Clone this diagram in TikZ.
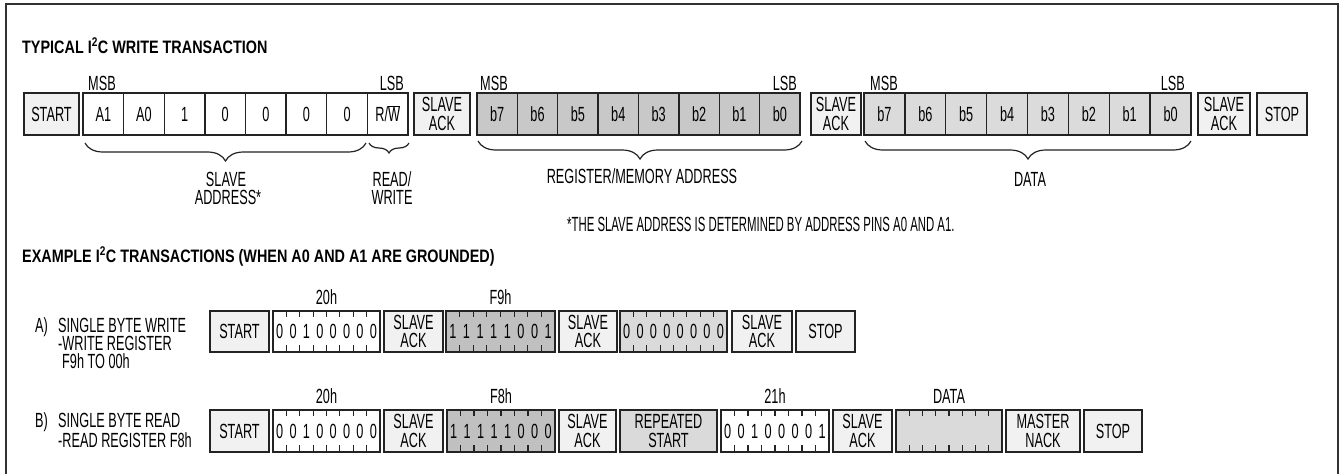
\documentclass[tikz,border=0pt]{standalone}
\usepackage{fontspec}
\setmainfont{Liberation Sans}[FakeStretch=0.62]
\newfontfamily\ttlfont{Liberation Sans}[FakeStretch=0.8]
\newfontfamily\notefont{Liberation Sans}[FakeStretch=0.555]
\usetikzlibrary{decorations.pathreplacing}
\definecolor{bdr}{RGB}{35,35,35}
\definecolor{lt}{RGB}{241,241,241}
\definecolor{regc}{RGB}{200,200,200}
\definecolor{datc}{RGB}{219,219,219}
\definecolor{f9c}{RGB}{192,192,192}
\definecolor{zc}{RGB}{218,218,218}
\definecolor{frmc}{RGB}{50,50,50}
\newcommand\bodyf{\fontsize{20.5}{18.5}\selectfont}
\newcommand\titlef{\ttlfont\bfseries\fontsize{18}{20}\selectfont}
\tikzset{
  bx/.style={draw=bdr, line width=1.4pt, inner sep=0pt, align=center, font=\bodyf},
  lbl/.style={inner sep=0pt, font=\bodyf},
  ttl/.style={inner sep=0pt, font=\titlef},
  tickmark/.style={draw=bdr, line width=1.1pt},
  brc/.style={draw=bdr, line width=1.2pt, decorate, decoration={brace, mirror, amplitude=#1}},
  brc/.default=18pt,
  frm/.style={draw=frmc, line width=2.2pt},
}
\newcommand\bxn[7]{\node[bx, fill=#6, minimum width={(#3)-(#2)}, minimum height={(#5)-(#4)}] (#1) at ({((#2)+(#3))/2},{((#4)+(#5))/2}) {#7};}
\newcommand\tickset[4]{\foreach \k in {1,...,7} {\draw[tickmark] ({(#1)+((#2)-(#1))*\k/8},#3) -- ++(0,6) ({(#1)+((#2)-(#1))*\k/8},#4) -- ++(0,-7);}}
\newcommand\byteb[7]{%
  \bxn{#1}{#2}{#3}{#4}{#5}{#6}{}%
  \foreach \d [count=\k] in {#7} {\node[lbl] (#1d\k) at ({(#2)+((#3)-(#2))*(\k-0.5)/8},{((#4)+(#5))/2}) {\d};}%
  \tickset{#2}{#3}{#4}{#5}%
}
\begin{document}
\begin{tikzpicture}[x=1pt,y=-1pt]
\useasboundingbox (0,0) rectangle (1342,474);
\fill[white] (0,0) rectangle (1342,474);
\draw[frm] (6,474) -- (6,4) -- (1338,4) -- (1338,474);

% ---------- typical write transaction ----------
\node[ttl, anchor=base west] (t1) at (22,53) {TYPICAL I\textsuperscript{2}C WRITE TRANSACTION};

\bxn{st}{24}{79}{93}{135}{lt}{START}
\foreach \t [count=\k from 0] in {A1,A0,1,0,0,0,0,{R/$\overline{\hbox{W}}$}} {
  \pgfmathsetmacro\xa{83+\k*40.625}\pgfmathsetmacro\xb{\xa+40.625}
  \bxn{sa\k}{\xa}{\xb}{93}{135}{white}{\t}
}
\bxn{ack1}{414}{470}{93}{135}{lt}{SLAVE\\ACK}
\foreach \t [count=\k from 0] in {b7,b6,b5,b4,b3,b2,b1,b0} {
  \pgfmathsetmacro\xa{477+\k*40.375}\pgfmathsetmacro\xb{\xa+40.375}
  \bxn{ra\k}{\xa}{\xb}{93}{135}{regc}{\t}
}
\bxn{ack2}{811}{861}{93}{135}{lt}{SLAVE\\ACK}
\foreach \t [count=\k from 0] in {b7,b6,b5,b4,b3,b2,b1,b0} {
  \pgfmathsetmacro\xa{864+\k*40.875}\pgfmathsetmacro\xb{\xa+40.875}
  \bxn{da\k}{\xa}{\xb}{93}{135}{datc}{\t}
}
\bxn{ack3}{1198}{1250}{93}{135}{lt}{SLAVE\\ACK}
\bxn{sp}{1257}{1307}{93}{135}{lt}{STOP}

\node[lbl, anchor=base west] (msb1) at (88,90) {MSB};
\node[lbl, anchor=base east] (lsb1) at (404,90) {LSB};
\node[lbl, anchor=base west] (msb2) at (480,90) {MSB};
\node[lbl, anchor=base east] (lsb2) at (797,90) {LSB};
\node[lbl, anchor=base west] (msb3) at (870,90) {MSB};
\node[lbl, anchor=base east] (lsb3) at (1185,90) {LSB};

\draw[brc=18pt] (85,143) -- (366,143);
\draw[brc=10pt] (369,143) -- (409,143);
\draw[brc=18pt] (478,141) -- (802,141);
\draw[brc=18pt] (865,141) -- (1191,141);

\node[lbl, anchor=base] (sal1) at (226,186) {SLAVE};
\node[lbl, anchor=base] (sal2) at (228,204) {ADDRESS*};
\node[lbl, anchor=base] (rwl1) at (392,186) {READ/};
\node[lbl, anchor=base] (rwl2) at (392,204) {WRITE};
\node[lbl, anchor=base] (rml) at (642,183) {REGISTER/MEMORY ADDRESS};
\node[lbl, anchor=base] (dal) at (1030,186) {DATA};
\node[lbl, anchor=base west, font=\notefont\bodyf] (fn) at (567,231) {*THE SLAVE ADDRESS IS DETERMINED BY ADDRESS PINS A0 AND A1.};

% ---------- examples ----------
\node[ttl, anchor=base west] (t2) at (22,262) {EXAMPLE I\textsuperscript{2}C TRANSACTIONS (WHEN A0 AND A1 ARE GROUNDED)};

\node[lbl, anchor=base west] (la1) at (35,332) {A)};
\node[lbl, anchor=base west] (la2) at (58,332) {SINGLE BYTE WRITE};
\node[lbl, anchor=base west] (la3) at (58,350) {-WRITE REGISTER};
\node[lbl, anchor=base west] (la4) at (62,368) {F9h TO 00h};

\bxn{aS}{210}{269}{311}{352}{lt}{START}
\byteb{aB}{273}{380}{311}{352}{white}{0,0,1,0,0,0,0,0}
\bxn{aK}{384}{443}{311}{352}{lt}{SLAVE\\ACK}
\byteb{aC}{446}{555}{311}{352}{f9c}{1,1,1,1,1,0,0,1}
\bxn{aL}{559}{617}{311}{352}{lt}{SLAVE\\ACK}
\byteb{aD}{620}{727}{311}{352}{zc}{0,0,0,0,0,0,0,0}
\bxn{aM}{732}{792}{311}{352}{lt}{SLAVE\\ACK}
\bxn{aP}{796}{855}{311}{352}{lt}{STOP}
\node[lbl, anchor=base] (h20a) at (aB.center |- 0,304) {20h};
\node[lbl, anchor=base] (hf9) at (aC.center |- 0,304) {F9h};

\node[lbl, anchor=base west] (lb1) at (35,427) {B)};
\node[lbl, anchor=base west] (lb2) at (58,427) {SINGLE BYTE READ};
\node[lbl, anchor=base west] (lb3) at (58,447) {-READ REGISTER F8h};

\bxn{bS}{210}{269}{410}{452}{lt}{START}
\byteb{bB}{273}{380}{410}{452}{white}{0,0,1,0,0,0,0,0}
\bxn{bK}{384}{443}{410}{452}{lt}{SLAVE\\ACK}
\byteb{bC}{447}{555}{410}{452}{f9c}{1,1,1,1,1,0,0,0}
\bxn{bL}{559}{616}{410}{452}{lt}{SLAVE\\ACK}
\bxn{bR}{620}{717}{410}{452}{zc}{REPEATED\\START}
\byteb{bD}{721}{829}{410}{452}{white}{0,0,1,0,0,0,0,1}
\bxn{bM}{833}{892}{410}{452}{lt}{SLAVE\\ACK}
\bxn{bE}{896}{1002}{410}{452}{zc}{}
\tickset{896}{1002}{410}{452}
\bxn{bN}{1006}{1080}{410}{452}{lt}{MASTER\\NACK}
\bxn{bP}{1084}{1142}{410}{452}{lt}{STOP}
\node[lbl, anchor=base] (h20b) at (bB.center |- 0,403) {20h};
\node[lbl, anchor=base] (hf8) at (bC.center |- 0,403) {F8h};
\node[lbl, anchor=base] (h21) at (bD.center |- 0,403) {21h};
\node[lbl, anchor=base] (hdat) at (bE.center |- 0,403) {DATA};
\end{tikzpicture}
\end{document}
